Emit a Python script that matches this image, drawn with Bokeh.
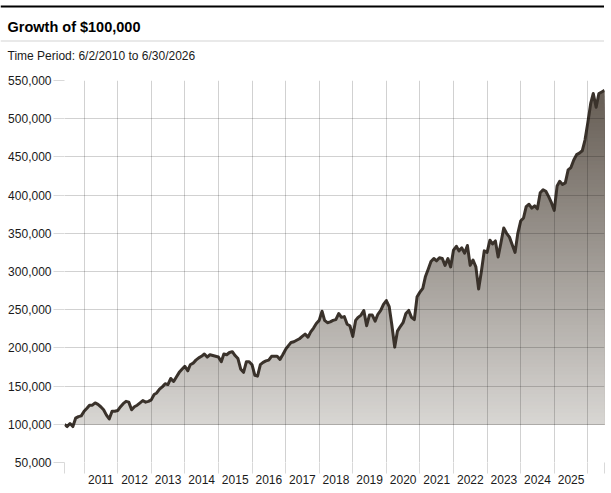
import numpy as np
import pandas as pd
from bokeh.plotting import figure
from bokeh.layouts import column
from bokeh.models import Range1d, FixedTicker, NumeralTickFormatter, Span
from bokeh.core.properties import value
from bokeh.embed import file_html
from bokeh.resources import INLINE

# ---------------- data ----------------
title_text = "Growth of $100,000"
subtitle_text = "Time Period: 6/2/2010 to 6/30/2026"
start_date = "2010-06-02"
end_date = "2026-06-30"
start_value = 100000
first_month_end = "2010-06-30"

# month-end values, in thousands of dollars
v2010 = [97, 101, 97, 108, 110, 111, 117]  # Jun-Dec
v2011 = [121, 125, 125, 128, 126, 123, 119, 112, 107, 117, 117, 118]
v2012 = [123, 127, 130, 129, 119, 123, 125, 128, 131, 129, 130, 132]
v2013 = [139, 141, 146, 149, 153, 152, 160, 156, 162, 168, 172, 176]
v2014 = [170, 178, 180, 184, 187, 189, 192, 188, 191, 190, 189, 188]
v2015 = [182, 192, 191, 194, 195, 190, 186, 172, 168, 182, 182, 178]
v2016 = [164, 163, 178, 181, 183, 184, 189, 189, 189, 185, 191, 198]
v2017 = [203, 207, 208, 210, 212, 215, 218, 214, 221, 226, 232, 236]
v2018 = [248, 236, 233, 234, 236, 237, 245, 240, 241, 231, 229, 215]
v2019 = [236, 240, 243, 249, 229, 243, 243, 235, 244, 249, 257, 262]
v2020 = [254, 230, 201, 222, 228, 233, 245, 249, 240, 237, 267, 273]
v2021 = [278, 293, 303, 313, 317, 314, 318, 317, 308, 317, 306, 328]
v2022 = [333, 327, 331, 324, 334, 308, 315, 306, 277, 301, 327, 325]
v2023 = [341, 336, 340, 319, 338, 357, 350, 345, 335, 325, 350, 366]
v2024 = [370, 385, 388, 383, 386, 382, 403, 407, 405, 398, 390, 380]
v2025 = [412, 418, 414, 416, 433, 436, 446, 453, 455, 458, 472, 495]
v2026 = [520, 533, 515, 533, 535, 537]  # Jan-Jun

year_ticks = list(range(2011, 2027))
year_labels = [str(y) for y in range(2011, 2026)]
y_ticks = list(range(50000, 550001, 50000))
fill_base = 100000
y_lo, y_hi = 50000, 550000

# ---------------- build series ----------------
monthly = []
for arr in (v2010, v2011, v2012, v2013, v2014, v2015, v2016, v2017, v2018,
            v2019, v2020, v2021, v2022, v2023, v2024, v2025, v2026):
    monthly.extend(arr)
monthly = np.array(monthly, dtype=float) * 1000.0

month_ends = pd.date_range(first_month_end, periods=len(monthly), freq=pd.offsets.MonthEnd())


def dec_year(d):
    d = pd.Timestamp(d)
    days = 366 if d.is_leap_year else 365
    return d.year + (d.dayofyear - 1) / days


xs = np.array([dec_year(start_date)] + [dec_year(d) + 1.0 / 365 for d in month_ends])
vals = np.concatenate([[start_value], monthly])
x_start = dec_year(start_date)
x_end = dec_year(end_date) + 1.0 / 365

FONT = "Liberation Sans"


def no_frame_align(fig):
    try:
        fig.frame_align = False
    except Exception:
        pass


# ---------------- header ----------------
HW, HH = 604, 72
h = figure(width=HW, height=HH, x_range=Range1d(0, HW), y_range=Range1d(HH, 0),
           toolbar_location=None, output_backend="svg", x_axis_type=None, y_axis_type=None,
           min_border=0)
h.outline_line_color = None
no_frame_align(h)
h.add_layout(Span(location=6, dimension="width", line_color="black", line_width=2))
h.add_layout(Span(location=40.5, dimension="width", line_color="#d3d3d3", line_width=1))
h.text(x=[7], y=[26], text=[title_text], text_font=value(FONT), text_font_style="bold",
       text_font_size="14.5px", text_baseline="alphabetic", text_color="#000000")
h.text(x=[7], y=[55], text=[subtitle_text], text_font=value(FONT),
       text_font_size="12px", text_baseline="alphabetic", text_color="#1a1a1a")

# ---------------- main chart ----------------
p = figure(width=611, height=493 - HH, x_range=Range1d(x_start, x_end),
           y_range=Range1d(y_lo, y_hi),
           toolbar_location=None, output_backend="svg",
           min_border_left=64, min_border_right=7, min_border_top=8, min_border_bottom=31)
p.outline_line_color = None
no_frame_align(p)

# gradient fill above the 100,000 baseline (stacked bands)
step = 5000
c_lo = np.array([216, 214, 211])
c_hi = np.array([98, 89, 80])
for hi in np.arange(y_hi, fill_base, -step):
    f = ((hi - step / 2) - fill_base) / (y_hi - fill_base)
    c = c_lo + (c_hi - c_lo) * f
    col = "#%02x%02x%02x" % tuple(int(round(t)) for t in c)
    p.varea(x=xs, y1=fill_base, y2=np.clip(vals, fill_base, hi), fill_color=col,
            level="underlay")

p.line(xs, vals, line_color="#3a322b", line_width=3, line_join="round")

# grids
grid_x = [x_start] + [float(y) for y in year_ticks] + [x_end]
p.xgrid.ticker = FixedTicker(ticks=grid_x)
p.ygrid.ticker = FixedTicker(ticks=y_ticks)
for g in (p.xgrid, p.ygrid):
    g.grid_line_color = "black"
    g.grid_line_alpha = 0.18
    g.level = "glyph"

# x axis: labels at mid-year, ticks at year boundaries
mid_years = [y + 0.5 for y in range(2011, 2026)]
xa = p.xaxis[0]
xa.ticker = FixedTicker(ticks=mid_years, minor_ticks=grid_x)
xa.major_label_overrides = {m: lab for m, lab in zip(mid_years, year_labels)}
xa.major_tick_line_color = None
xa.major_tick_out = 11
xa.major_tick_in = 0
xa.minor_tick_out = 11
xa.minor_tick_in = 0
xa.minor_tick_line_color = "#d9d9d9"
xa.axis_line_color = None
xa.major_label_standoff = 1
xa.major_label_text_font = FONT
xa.major_label_text_font_size = "12px"
xa.major_label_text_color = "#1a1a1a"

ya = p.yaxis[0]
ya.ticker = FixedTicker(ticks=y_ticks)
ya.formatter = NumeralTickFormatter(format="0,0")
ya.major_tick_out = 11
ya.major_tick_in = 0
ya.major_tick_line_color = "#d9d9d9"
ya.minor_tick_line_color = None
ya.axis_line_color = None
ya.major_label_standoff = 2
ya.major_label_text_font = FONT
ya.major_label_text_font_size = "12px"
ya.major_label_text_color = "#1a1a1a"

layout = column(h, p, spacing=0)

open("out.html", "w").write(file_html(layout, INLINE))
